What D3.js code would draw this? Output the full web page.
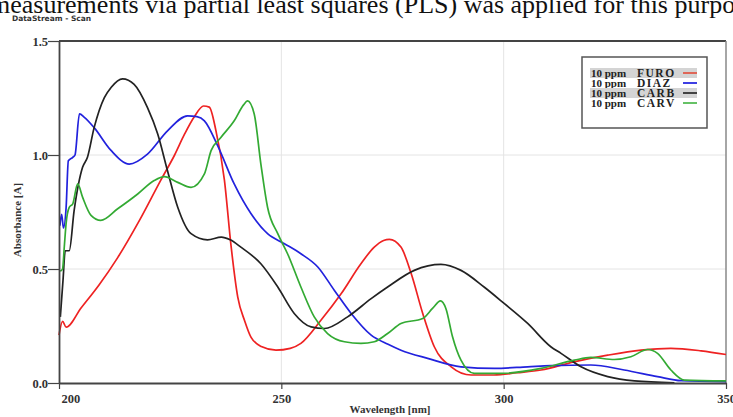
<!DOCTYPE html>
<html>
<head>
<meta charset="utf-8">
<script src="https://cdn.jsdelivr.net/npm/d3@7"></script>
<style>
  body { margin: 0; background: #fff; overflow: hidden; }
  .line { fill: none; stroke-width: 1.7px; stroke-linejoin: round; }
</style>
</head>
<body>
<svg id="chart" width="733" height="417"></svg>
<script>
// series: [wavelength nm, absorbance A]
var furo = [[200.0,0.21],[200.8,0.27],[201.6,0.245],[205,0.33],[209,0.43],[213.2,0.55],[218,0.71],[222.9,0.89],[226,1.0],[228.2,1.09],[230.5,1.17],[232.5,1.215],[233.8,1.21],[235.3,1.106],[237.2,0.89],[238.7,0.60],[240.2,0.377],[241.8,0.27],[243.2,0.20],[245.5,0.16],[248.8,0.144],[252,0.152],[254.4,0.174],[258.9,0.275],[263.4,0.39],[267.9,0.523],[270.9,0.596],[273,0.625],[274.3,0.63],[276.9,0.596],[279.2,0.48],[281.8,0.305],[284.4,0.159],[288.2,0.071],[292.7,0.035],[297.8,0.035],[303,0.045],[308.4,0.057],[315.8,0.093],[323.4,0.122],[330.9,0.144],[337.6,0.152],[344.4,0.141],[350,0.125]];
var diaz = [[200.2,0.69],[200.6,0.74],[201.0,0.68],[201.6,0.77],[202.1,0.975],[203.1,0.99],[203.6,1.0],[204.6,1.18],[205.7,1.165],[207.9,1.12],[211.7,1.02],[215.8,0.96],[219.9,1.004],[224.4,1.106],[228.9,1.172],[231,1.168],[232.7,1.15],[235.7,1.04],[239.4,0.873],[243.2,0.742],[246.9,0.655],[250.7,0.611],[254.4,0.567],[258.2,0.509],[261.9,0.407],[265.7,0.305],[270.2,0.21],[274,0.17],[276.9,0.144],[282.9,0.108],[290.4,0.071],[297.9,0.064],[305.4,0.071],[310.6,0.076],[319.6,0.079],[327.1,0.057],[334.6,0.028],[339.9,0.010],[350,0.006]];
var carb = [[200.3,0.29],[200.9,0.45],[201.4,0.58],[202.3,0.58],[203.4,0.756],[205.3,0.946],[206.4,0.99],[207.9,1.12],[210.2,1.252],[211.7,1.296],[214.3,1.334],[216.9,1.31],[219.9,1.208],[222.2,1.092],[224.4,0.931],[226.7,0.771],[229.7,0.655],[233.4,0.628],[236.5,0.64],[238.5,0.628],[240.9,0.596],[245.4,0.523],[249.2,0.421],[252.9,0.305],[256.7,0.246],[259.7,0.239],[264.9,0.29],[270.2,0.37],[273.9,0.421],[279.9,0.494],[285.9,0.52],[290.4,0.494],[295.6,0.421],[300.1,0.349],[305.4,0.261],[310.6,0.159],[312.9,0.13],[317.4,0.071],[323.4,0.028],[329.4,0.009],[338.4,0.001]];
var carv = [[200.3,0.49],[200.8,0.5],[201.2,0.6],[201.6,0.70],[202.3,0.77],[203.1,0.786],[204.2,0.873],[205.3,0.815],[207.2,0.735],[209.4,0.713],[213.2,0.764],[217.7,0.829],[221.4,0.888],[223.7,0.905],[226.7,0.88],[229.7,0.858],[232.7,0.917],[234.2,1.019],[236.4,1.077],[239.4,1.15],[241.5,1.22],[242.4,1.237],[243.9,1.18],[245.4,0.96],[246.9,0.771],[249.2,0.655],[251.4,0.567],[254.4,0.421],[257.4,0.29],[260.4,0.217],[264.2,0.181],[267.9,0.174],[270.9,0.181],[273.9,0.217],[276.9,0.261],[281.8,0.283],[284.0,0.327],[285.8,0.36],[287.0,0.327],[288.5,0.203],[290.4,0.10],[293.4,0.042],[299.4,0.042],[308.4,0.064],[315.9,0.10],[319.6,0.112],[324.9,0.103],[328.6,0.115],[332.4,0.147],[334.6,0.13],[337.6,0.057],[340.6,0.013],[350,0.009]];

var seriesNames = ["FURO", "DIAZ", "CARB", "CARV"];
var seriesData = [furo, diaz, carb, carv];
var seriesColors = ["#ee2222", "#2222dd", "#222222", "#33aa33"];
var legendColors = ["#e05a4a", "#2a2ae0", "#333333", "#55bb55"];
var xTicks = [200, 250, 300, 350];
var yTicks = [0.0, 0.5, 1.0, 1.5];

var svg = d3.select("#chart"),
    margin = {top: 41, right: 7, bottom: 34, left: 59},
    width = +svg.attr("width") - margin.left - margin.right,
    height = +svg.attr("height") - margin.top - margin.bottom;

var serifBold = "bold 12.5px 'Liberation Serif', serif";

// clipped sentence of the paper above the figure
svg.append("text")
    .attr("x", -10)
    .attr("y", 13)
    .style("font", "26px 'Liberation Serif', serif")
    .attr("fill", "#111")
    .text("measurements via partial least squares (PLS) was applied for this purpo");

svg.append("text")
    .attr("x", 12)
    .attr("y", 21)
    .style("font", "bold 7.5px 'DejaVu Sans', sans-serif")
    .attr("fill", "#333")
    .text("DataStream - Scan");

var g = svg.append("g").attr("transform", "translate(" + margin.left + "," + margin.top + ")");

var x = d3.scaleLinear().domain([200, 350]).range([0, width]),
    y = d3.scaleLinear().domain([0, 1.5]).range([height, 0]);

// grid
g.selectAll(".gx").data(xTicks.slice(1, 3)).enter().append("line")
    .attr("x1", function(d) { return x(d); }).attr("x2", function(d) { return x(d); })
    .attr("y1", 0).attr("y2", height)
    .attr("stroke", "#e4e4e4").attr("stroke-width", 1);
g.selectAll(".gy").data(yTicks.slice(1, 3)).enter().append("line")
    .attr("x1", 0).attr("x2", width)
    .attr("y1", function(d) { return y(d); }).attr("y2", function(d) { return y(d); })
    .attr("stroke", "#e4e4e4").attr("stroke-width", 1);

// frame top/right
g.append("line").attr("x1", 0).attr("x2", width).attr("y1", 0).attr("y2", 0)
    .attr("stroke", "#444").attr("stroke-width", 2);
g.append("line").attr("x1", width).attr("x2", width).attr("y1", 0).attr("y2", height)
    .attr("stroke", "#888").attr("stroke-width", 1.5);

var line = d3.line()
    .curve(d3.curveMonotoneX)
    .x(function(d) { return x(d[0]); })
    .y(function(d) { return y(d[1]); });

g.selectAll(".line").data(seriesData).enter().append("path")
    .attr("class", "line")
    .attr("d", function(d) { return line(d); })
    .style("stroke", function(d, i) { return seriesColors[i]; });

// axes
var xAxis = g.append("g")
    .attr("transform", "translate(0," + height + ")")
    .call(d3.axisBottom(x).tickValues(xTicks).tickFormat(d3.format("d")).tickSize(6).tickSizeOuter(0));
xAxis.select(".domain").attr("stroke", "#444").attr("stroke-width", 1.8);
xAxis.selectAll(".tick line").attr("stroke", "#444").attr("stroke-width", 1.2);
xAxis.selectAll(".tick text")
    .style("font", serifBold).attr("fill", "#333")
    .attr("dy", "0.85em")
    .attr("text-anchor", function(d, i) { return i === 0 ? "start" : "middle"; })
    .attr("dx", function(d, i) { return i === 0 ? 2 : 0; });

var yAxis = g.append("g")
    .call(d3.axisLeft(y).tickValues(yTicks).tickFormat(d3.format(".1f")).tickSize(11).tickSizeOuter(0));
yAxis.select(".domain").attr("stroke", "#444").attr("stroke-width", 1.8);
yAxis.selectAll(".tick line").attr("stroke", "#444").attr("stroke-width", 1.2);
yAxis.selectAll(".tick text")
    .style("font", serifBold).attr("fill", "#333")
    .attr("x", -11);

svg.append("text")
    .attr("x", 390).attr("y", 413)
    .attr("text-anchor", "middle")
    .style("font", "bold 11px 'Liberation Serif', serif")
    .attr("fill", "#333")
    .text("Wavelength [nm]");

svg.append("text")
    .attr("transform", "translate(21,220) rotate(-90)")
    .attr("text-anchor", "middle")
    .style("font", "bold 11px 'Liberation Serif', serif")
    .attr("fill", "#333")
    .text("Absorbance [A]");

// legend
var lg = svg.append("g").attr("transform", "translate(582,57)");
lg.append("rect").attr("width", 125).attr("height", 71)
    .attr("fill", "#fff").attr("stroke", "#555").attr("stroke-width", 1.5);
var row = lg.selectAll(".row").data(seriesNames).enter().append("g")
    .attr("transform", function(d, i) { return "translate(0," + (11 + i * 10) + ")"; });
row.filter(function(d, i) { return i % 2 === 0; }).append("rect")
    .attr("x", 8).attr("y", 0).attr("width", 107).attr("height", 10)
    .attr("fill", "#d4d4d4");
row.append("text")
    .attr("x", 9).attr("y", 8.5)
    .style("font", "bold 11px 'Liberation Serif', serif")
    .attr("fill", "#222")
    .text("10 ppm");
row.append("text")
    .attr("x", 55).attr("y", 8.5)
    .style("font", "bold 11.5px 'Liberation Serif', serif")
    .style("letter-spacing", "1.5px")
    .attr("fill", "#222")
    .text(function(d) { return d; });
row.append("line")
    .attr("x1", 101).attr("x2", 115).attr("y1", 5).attr("y2", 5)
    .attr("stroke-width", 1.8)
    .attr("stroke", function(d, i) { return legendColors[i]; });
</script>
</body>
</html>
